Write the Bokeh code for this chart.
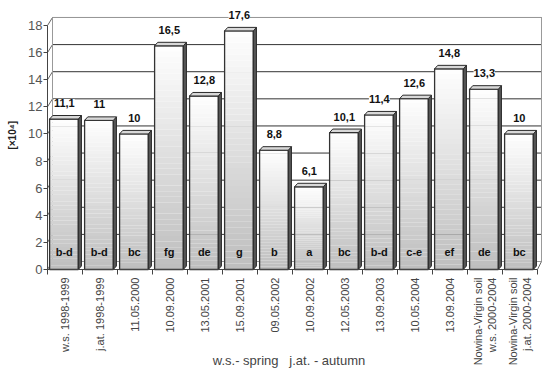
import numpy as np
from bokeh.plotting import figure
from bokeh.models import ColumnDataSource, LabelSet, Label, FixedTicker, Range1d
from bokeh.core.properties import value
from bokeh.embed import file_html
from bokeh.resources import INLINE

categories = ["w.s. 1998-1999", "j.at. 1998-1999", "11.05.2000", "10.09.2000",
              "13.05.2001", "15.09.2001", "09.05.2002", "10.09.2002",
              "12.05.2003", "13.09.2003", "10.05.2004", "13.09.2004",
              "Nowina-Virgin soil\nw.s. 2000-2004", "Nowina-Virgin soil\nj.at. 2000-2004"]
values = [11.1, 11.0, 10.0, 16.5, 12.8, 17.6, 8.8, 6.1, 10.1, 11.4, 12.6, 14.8, 13.3, 10.0]
value_labels = ["11,1", "11", "10", "16,5", "12,8", "17,6", "8,8", "6,1",
                "10,1", "11,4", "12,6", "14,8", "13,3", "10"]
groups = ["b-d", "b-d", "bc", "fg", "de", "g", "b", "a", "bc", "b-d", "c-e", "ef", "de", "bc"]
y_ticks = [0, 2, 4, 6, 8, 10, 12, 14, 16, 18]

n = len(categories)
FONT = "Liberation Sans"

W, H = 548, 385
X0PX, PXX = 47.0, 35.0        # pixel of x=0, px per category
Y0PX, PXY = 269.0, 13.556     # pixel of y=0 (from top), px per unit

WDX, WDY = 0.143, 0.59        # back-wall offset
BDX, BDY = 0.09, 0.26         # bar depth
XR = n + 0.114

p = figure(width=W, height=H,
           x_range=Range1d(-X0PX / PXX, (W - X0PX) / PXX),
           y_range=Range1d(-(H - Y0PX) / PXY, Y0PX / PXY),
           output_backend="svg", toolbar_location=None,
           min_border=0, min_border_left=0, min_border_right=0,
           min_border_top=0, min_border_bottom=0)
p.outline_line_color = None
p.xgrid.visible = False
p.ygrid.visible = False
p.background_fill_color = "white"

# back wall gridlines
gy = [t + WDY for t in y_ticks if t > 0]
p.segment(x0=[WDX] * len(gy), y0=gy, x1=[XR] * len(gy), y1=gy, line_color="#333333", line_width=1)
# left wall diagonals
p.segment(x0=[0] * len(y_ticks), y0=y_ticks, x1=[WDX] * len(y_ticks), y1=[t + WDY for t in y_ticks],
          line_color="#666666", line_width=1)
# back wall edges
p.segment(x0=[WDX, XR, WDX, WDX], y0=[WDY, WDY, WDY, 18 + WDY],
          x1=[WDX, XR, XR, XR], y1=[18 + WDY, 18 + WDY, WDY, 18 + WDY],
          line_color="#999999", line_width=1)
p.segment(x0=[n], y0=[0], x1=[XR], y1=[WDY], line_color="#666666")

# bars: gradient front faces
NS = 40
gl, gr, gb, gt, gc = [], [], [], [], []
for i, v in enumerate(values):
    l, r = i + 0.06, i + 0.88
    for k in range(NS):
        gl.append(l); gr.append(r)
        gb.append(v * k / NS); gt.append(v * (k + 1) / NS)
        f = (k + 0.5) / NS
        c = int(190 + (255 - 190) * f)
        gc.append("#%02x%02x%02x" % (c, c, c))
p.quad(left=gl, right=gr, bottom=gb, top=gt, fill_color=gc, line_color=None)

lefts = [i + 0.06 for i in range(n)]
rights = [i + 0.88 for i in range(n)]
p.quad(left=lefts, right=rights, bottom=[0] * n, top=values, fill_color=None,
       line_color="#333333", line_width=1.3)

side_xs = [[r, r + BDX, r + BDX, r] for r in rights]
side_ys = [[0, BDY, v + BDY, v] for v in values]
p.patches(side_xs, side_ys, fill_color="#555555", line_color="#2a2a2a", line_width=1)
top_xs = [[l, l + BDX, r + BDX, r] for l, r in zip(lefts, rights)]
top_ys = [[v, v + BDY, v + BDY, v] for v in values]
p.patches(top_xs, top_ys, fill_color="#d8d8d8", line_color="#2a2a2a", line_width=1)

# labels
src = ColumnDataSource(dict(x=[i + 0.48 for i in range(n)], v=values, lab=value_labels,
                            g=groups, z=[0] * n))
p.add_layout(LabelSet(x="x", y="v", text="lab", source=src, y_offset=16,
                      text_align="center", text_baseline="middle",
                      text_font=value(FONT), text_font_style="bold", text_font_size="11px",
                      text_color="#111111", background_fill_color="white"))
p.add_layout(LabelSet(x="x", y="z", text="g", source=src, y_offset=18,
                      text_align="center", text_baseline="middle",
                      text_font=value(FONT), text_font_style="bold", text_font_size="11px",
                      text_color="#111111"))

# axes
centers = [i + 0.5 for i in range(n)]
p.xaxis.fixed_location = 0
p.xaxis.ticker = FixedTicker(ticks=centers, minor_ticks=list(range(n + 1)))
p.xaxis.major_label_overrides = {c: lab for c, lab in zip(centers, categories)}
p.xaxis.major_label_orientation = np.pi / 2
p.xaxis.major_tick_line_color = None
p.xaxis.minor_tick_out = 5
p.xaxis.minor_tick_in = 0
p.xaxis.minor_tick_line_color = "#444444"
p.xaxis.axis_line_color = "#444444"
p.xaxis.major_label_text_font = FONT
p.xaxis.major_label_text_font_size = "11px"
p.xaxis.major_label_text_color = "#444444"
p.xaxis.major_label_standoff = 2
p.xaxis.bounds = (0, n)

p.yaxis.fixed_location = 0
p.yaxis.ticker = FixedTicker(ticks=y_ticks)
p.yaxis.bounds = (0, 18)
p.yaxis.major_tick_out = 4
p.yaxis.major_tick_in = 0
p.yaxis.minor_tick_line_color = None
p.yaxis.axis_line_color = "#444444"
p.yaxis.major_tick_line_color = "#444444"
p.yaxis.major_label_text_font = FONT
p.yaxis.major_label_text_font_size = "13px"
p.yaxis.major_label_text_color = "#555555"
p.yaxis.major_label_standoff = 1

p.add_layout(Label(x=-1.0, y=9.9, text="[×10⁴]", angle=np.pi / 2, text_align="center",
                   text_baseline="middle", text_font=FONT, text_font_style="bold",
                   text_font_size="10px", text_color="#222222"))
p.add_layout(Label(x=6.9, y=-6.7, text="w.s.-\u00a0spring\u00a0\u00a0\u00a0j.at.\u00a0-\u00a0autumn",
                   text_align="center", text_baseline="middle", text_font=FONT,
                   text_font_size="13px", text_color="#444444"))

open("out.html", "w").write(file_html(p, INLINE))
